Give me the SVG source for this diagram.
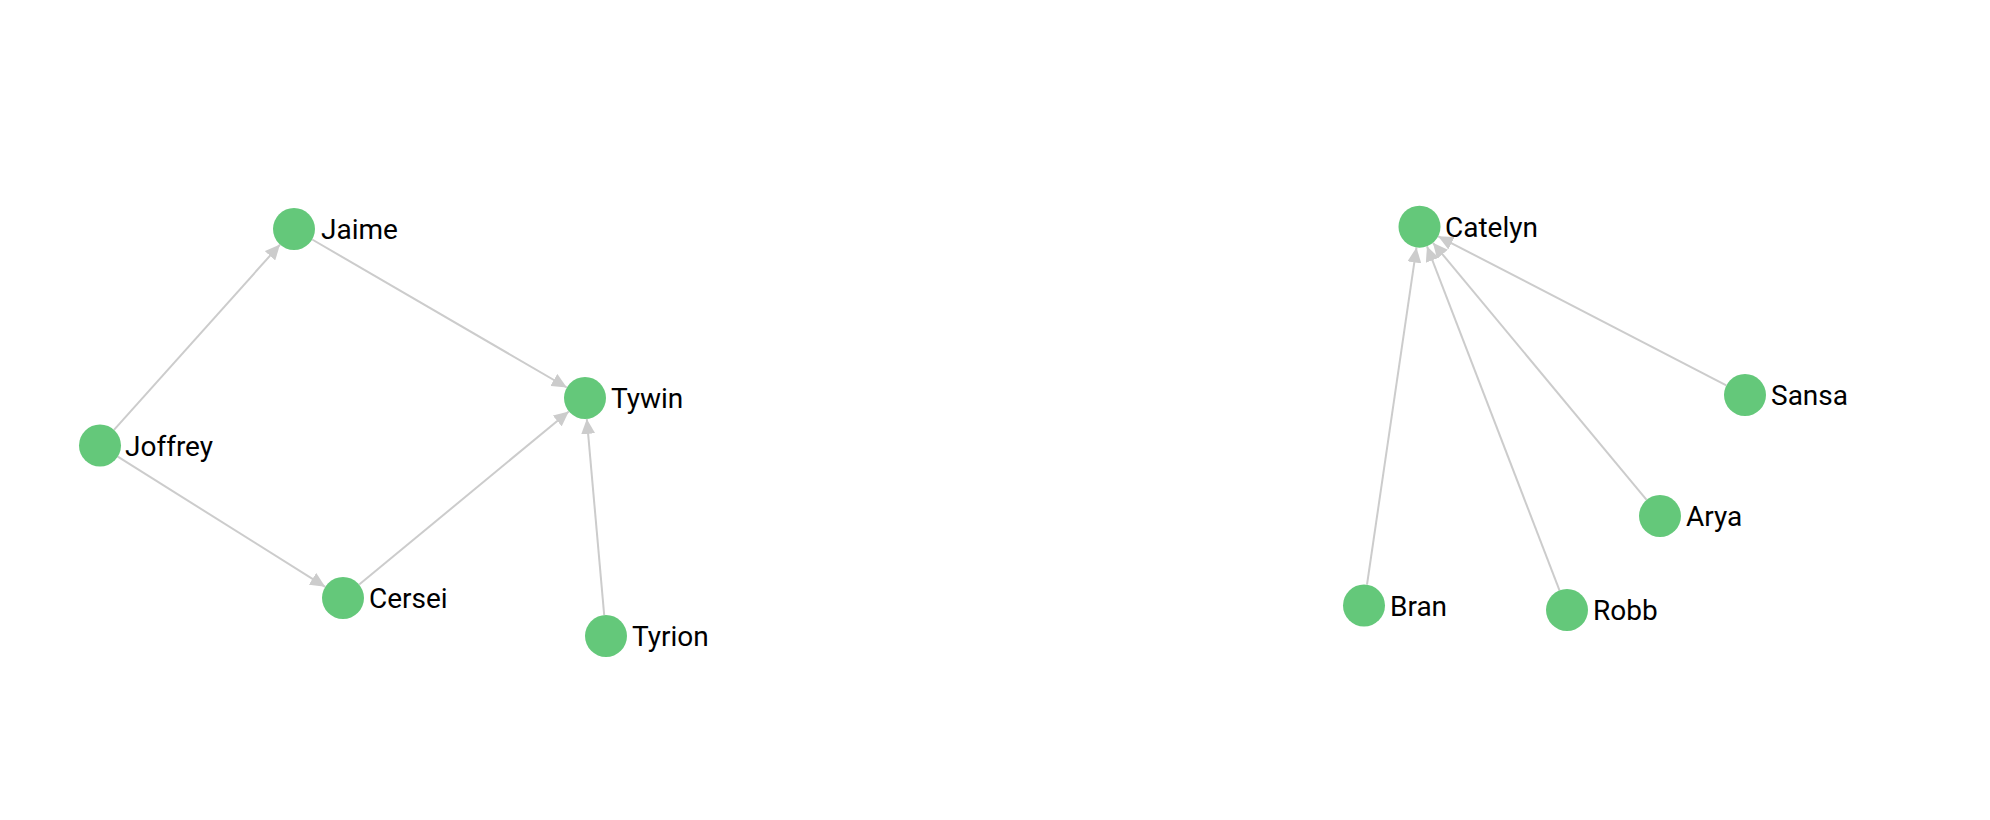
<svg xmlns="http://www.w3.org/2000/svg" width="1990" height="820" viewBox="0 0 1990 820">
<style>
.edge{stroke:#cccccc;stroke-width:2;fill:none;marker-end:url(#arrow)}
.node circle{fill:#64c87a}
.node text{font-family:Roboto,"Liberation Sans",sans-serif;font-size:28px;fill:#000}
</style>
<defs>
<marker id="arrow" markerUnits="userSpaceOnUse" markerWidth="15" markerHeight="14" refX="15" refY="7" orient="auto">
<path d="M0,0 L15,7 L0,14 z" fill="#cccccc"/>
</marker>
</defs>
<rect width="1990" height="820" fill="#ffffff"/>
<g id="connectors">
<line class="edge" x1="114.0" y1="429.9" x2="280.0" y2="244.6"/>
<line class="edge" x1="312.2" y1="239.5" x2="566.8" y2="387.5"/>
<line class="edge" x1="117.8" y1="456.7" x2="325.2" y2="586.8"/>
<line class="edge" x1="359.2" y1="584.6" x2="568.8" y2="411.4"/>
<line class="edge" x1="604.2" y1="615.1" x2="586.8" y2="418.9"/>
<line class="edge" x1="1367.0" y1="584.7" x2="1416.5" y2="247.5"/>
<line class="edge" x1="1559.5" y1="590.4" x2="1427.0" y2="246.3"/>
<line class="edge" x1="1646.6" y1="499.9" x2="1432.9" y2="242.8"/>
<line class="edge" x1="1726.3" y1="385.4" x2="1438.2" y2="236.3"/>
</g>
<g id="node-jaime" class="node"><circle cx="294" cy="229" r="21"/><text x="321" y="239">Jaime</text></g>
<g id="node-joffrey" class="node"><circle cx="100" cy="445.5" r="21"/><text x="125" y="455.5">Joffrey</text></g>
<g id="node-tywin" class="node"><circle cx="585" cy="398" r="21"/><text x="611" y="408">Tywin</text></g>
<g id="node-cersei" class="node"><circle cx="343" cy="598" r="21"/><text x="369" y="608">Cersei</text></g>
<g id="node-tyrion" class="node"><circle cx="606" cy="636" r="21"/><text x="632" y="646">Tyrion</text></g>
<g id="node-catelyn" class="node"><circle cx="1419.5" cy="226.7" r="21"/><text x="1445" y="236.7">Catelyn</text></g>
<g id="node-sansa" class="node"><circle cx="1745" cy="395" r="21"/><text x="1771" y="405">Sansa</text></g>
<g id="node-arya" class="node"><circle cx="1660" cy="516" r="21"/><text x="1686" y="526">Arya</text></g>
<g id="node-bran" class="node"><circle cx="1364" cy="605.5" r="21"/><text x="1390" y="615.5">Bran</text></g>
<g id="node-robb" class="node"><circle cx="1567" cy="610" r="21"/><text x="1593" y="620">Robb</text></g>
</svg>
